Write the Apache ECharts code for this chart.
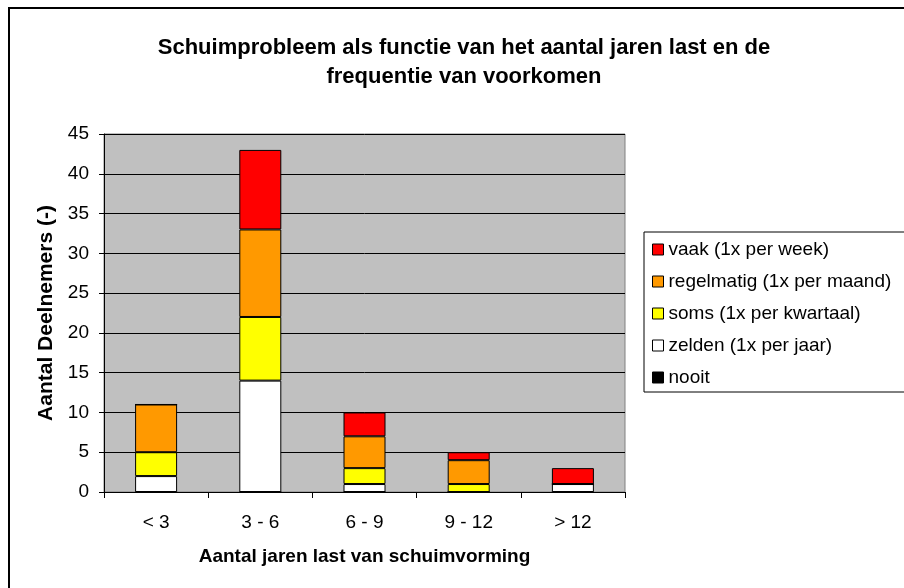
<!DOCTYPE html>
<html>
<head>
<meta charset="utf-8">
<script src="https://cdn.jsdelivr.net/npm/echarts@6/dist/echarts.min.js"></script>
<style>
  html, body { margin: 0; padding: 0; background: #fff; }
  #chart { width: 904px; height: 588px; }
</style>
</head>
<body>
<div id="chart"></div>
<script>
// categorieen (aantal jaren last)
var categories = ['< 3', '3 - 6', '6 - 9', '9 - 12', '> 12']

// aantal deelnemers per frequentie
var nooit = [0, 0, 0, 0, 0]
var zelden = [2, 14, 1, 0, 1]
var soms = [3, 8, 2, 1, 0]
var regelmatig = [6, 11, 4, 3, 0]
var vaak = [0, 10, 3, 1, 2]

var yTicks = { min: 0, max: 45, interval: 5 }

var FONT = 'Liberation Sans, Arial, sans-serif'

function barSeries(name, data, color) {
  return {
    name: name,
    type: 'bar',
    stack: 'totaal',
    barWidth: 42,
    itemStyle: { color: color, borderColor: '#000', borderWidth: 1 },
    emphasis: { disabled: true },
    data: data
  }
}

var chart = echarts.init(document.getElementById('chart'))
chart.setOption({
  animation: false,
  textStyle: { fontFamily: FONT, color: '#000' },
  title: {
    text: 'Schuimprobleem als functie van het aantal jaren last en de\nfrequentie van voorkomen',
    left: 459,
    top: 28,
    textAlign: 'center',
    textStyle: { fontFamily: FONT, fontSize: 22, fontWeight: 'bold', color: '#000', lineHeight: 29 }
  },
  // kaderrand (rechts en onder valt buiten beeld)
  graphic: [{
    type: 'rect',
    shape: { x: 9, y: 8, width: 1000, height: 1000 },
    style: { fill: 'none', stroke: '#000', lineWidth: 2 },
    silent: true
  }],
  legend: {
    orient: 'vertical',
    left: 644,
    top: 232,
    padding: [8, 30, 5, 8],
    borderColor: '#000',
    borderWidth: 1,
    itemWidth: 11,
    itemHeight: 11,
    itemGap: 13,
    icon: 'rect',
    itemStyle: { borderColor: '#000', borderWidth: 1 },
    textStyle: { fontFamily: FONT, fontSize: 19, color: '#000', lineHeight: 19 },
    data: ['vaak (1x per week)', 'regelmatig (1x per maand)', 'soms (1x per kwartaal)', 'zelden (1x per jaar)', 'nooit']
  },
  grid: {
    left: 104,
    right: 279,
    top: 134,
    bottom: 96,
    show: true,
    backgroundColor: '#C0C0C0',
    borderColor: '#808080',
    borderWidth: 1
  },
  xAxis: {
    type: 'category',
    data: categories,
    name: 'Aantal jaren last van schuimvorming',
    nameLocation: 'middle',
    nameGap: 55,
    nameTextStyle: { fontFamily: FONT, fontSize: 19, fontWeight: 'bold', color: '#000' },
    axisLine: { lineStyle: { color: '#000', width: 1 } },
    axisTick: { show: true, length: 6, lineStyle: { color: '#000' } },
    axisLabel: { margin: 21, fontFamily: FONT, fontSize: 19, color: '#000' }
  },
  yAxis: {
    type: 'value',
    min: yTicks.min,
    max: yTicks.max,
    interval: yTicks.interval,
    name: 'Aantal Deelnemers (-)',
    nameLocation: 'middle',
    nameRotate: 90,
    nameGap: 47,
    nameTextStyle: { fontFamily: FONT, fontSize: 21, fontWeight: 'bold', color: '#000' },
    axisLine: { show: true, lineStyle: { color: '#000', width: 1 } },
    axisTick: { show: true, length: 5, lineStyle: { color: '#000' } },
    axisLabel: { margin: 15, fontFamily: FONT, fontSize: 19, color: '#000' },
    splitLine: { show: true, lineStyle: { color: '#000', width: 1 } }
  },
  series: [
    barSeries('nooit', nooit, '#000000'),
    barSeries('zelden (1x per jaar)', zelden, '#FFFFFF'),
    barSeries('soms (1x per kwartaal)', soms, '#FFFF00'),
    barSeries('regelmatig (1x per maand)', regelmatig, '#FF9900'),
    barSeries('vaak (1x per week)', vaak, '#FF0000')
  ]
})
</script>
</body>
</html>
